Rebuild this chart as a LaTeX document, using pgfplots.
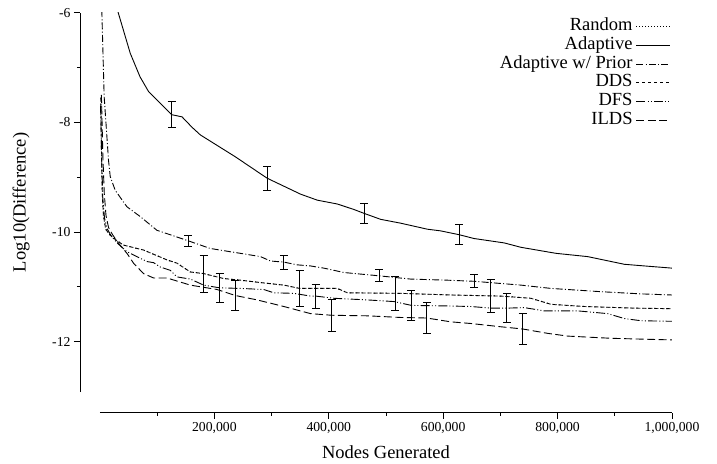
\documentclass[border=0pt]{standalone}
\usepackage{fontspec}
\setmainfont{Liberation Serif}
\usepackage{pgfplots}
\pgfplotsset{compat=1.18}

\begin{document}
\begin{tikzpicture}
\begin{axis}[
  scale only axis, width=572pt, height=379.3pt,
  xmin=0, xmax=1000000, ymin=-12.92, ymax=-6,
  axis x line=bottom, axis y line=left,
  axis x line shift=20.7pt, axis y line shift=20pt,
  axis line style={-, line width=0.8pt},
  scaled x ticks=false,
  xtick={200000,400000,600000,800000,1000000},
  xticklabels={{200,000},{400,000},{600,000},{800,000},{1,000,000}},
  minor xtick={100000,300000,500000,700000,900000},
  ytick={-12,-10,-8,-6}, yticklabels={-12,-10,-8,-6},
  minor ytick={-11,-9,-7},
  tick align=outside,
  major tick length=6pt, minor tick length=3pt,
  tick style={line width=0.8pt, black},
  tick label style={font=\fontsize{13.7}{15}\selectfont},
  xlabel={Nodes Generated}, ylabel={Log10(Difference)},
  every axis x label/.style={at={(rel axis cs:0.5,-0.1748)}, anchor=base,
    font=\fontsize{18.5}{20}\selectfont},
  every axis y label/.style={at={(rel axis cs:-0.138,0.5)}, anchor=center, rotate=90,
    font=\fontsize{18.5}{20}\selectfont},
  legend plot pos=right, legend cell align=right,
  legend style={draw=none, fill=none, at={(0.998,0.9868)}, anchor=north east,
    inner sep=0pt, column sep=3.5pt, row sep=1.16pt,
    font=\fontsize{18.5}{20}\selectfont,
    nodes={inner sep=0pt, text height=13pt, text depth=4.5pt}},
  legend image code/.code={\draw[#1] (0pt,0pt) -- (33.7pt,0pt);},
  every axis plot/.append style={line width=0.9pt, black},
  ebar/.style={forget plot, draw=none,
    error bars/.cd, y dir=both, y explicit,
    error bar style={draw=black, solid, line width=0.9pt},
    error mark options={rotate=90, mark size=4pt, draw=black, solid, line width=0.9pt}},
]
\coordinate (bl) at (rel axis cs:-0.1748,-0.1898);
\coordinate (tr) at (rel axis cs:1.0787,1.0335);

% Random (hidden under DDS)
\addplot[dash pattern=on 1pt off 2pt] coordinates {
  (1500,-7.55) (2500,-8.5) (4000,-9.3) (6000,-9.7) (10000,-9.95) (17000,-10.05)
  (27000,-10.14) (41200,-10.24) (76200,-10.33) (117200,-10.51) (134700,-10.57)
  (158000,-10.73) (181300,-10.76) (216300,-10.85) (245500,-10.88) (286300,-10.93)
  (321400,-10.97) (348900,-11.03) (414900,-11.03) (432400,-11.11) (525700,-11.12)
  (613300,-11.15) (700900,-11.17) (753400,-11.21) (788400,-11.32) (846800,-11.36)
  (934300,-11.39) (1000000,-11.40)
};
\addlegendentry{Random}

% Adaptive
\addplot[solid] coordinates {
  (19300,-5.5) (31900,-6.0) (52900,-6.74) (70000,-7.17) (85000,-7.44) (99600,-7.59) (125200,-7.86)
  (143400,-7.90) (160900,-8.09) (175500,-8.23) (236800,-8.63) (292300,-9.02)
  (350600,-9.31) (379900,-9.42) (414900,-9.49) (443900,-9.59) (461500,-9.66)
  (490700,-9.77) (525700,-9.84) (572500,-9.95) (595400,-9.98) (627800,-10.05)
  (654100,-10.12) (706700,-10.20) (735900,-10.28) (797200,-10.39) (852700,-10.45)
  (916800,-10.59) (951800,-10.62) (1000000,-10.66)
};
\addlegendentry{Adaptive}

% Adaptive w/ Prior
\addplot[dash pattern=on 7pt off 2.2pt on 1pt off 2.2pt] coordinates {
  (1500,-5.5) (3300,-6.0) (7300,-7.53) (14900,-8.69) (17900,-8.99) (26600,-9.24)
  (47100,-9.54) (70400,-9.72) (99600,-9.97) (153900,-10.16) (192300,-10.30)
  (227300,-10.36) (245500,-10.39) (280600,-10.45) (298100,-10.53) (321400,-10.55)
  (344800,-10.60) (368100,-10.62) (391400,-10.66) (426400,-10.74) (487700,-10.80)
  (543300,-10.86) (607500,-10.88) (654100,-10.90) (689100,-10.93) (735900,-10.97)
  (788400,-11.03) (876000,-11.09) (946000,-11.13) (1000000,-11.15)
};
\addlegendentry{Adaptive w/ Prior}

% DDS
\addplot[dash pattern=on 3pt off 3pt] coordinates {
  (1500,-7.55) (2500,-8.5) (4000,-9.3) (6000,-9.7) (10000,-9.95) (17000,-10.05)
  (27000,-10.14) (41200,-10.24) (76200,-10.33) (117200,-10.51) (134700,-10.57)
  (158000,-10.73) (181300,-10.76) (216300,-10.85) (245500,-10.88) (286300,-10.93)
  (321400,-10.97) (348900,-11.03) (414900,-11.03) (432400,-11.11) (525700,-11.12)
  (613300,-11.15) (700900,-11.17) (753400,-11.21) (788400,-11.32) (846800,-11.36)
  (934300,-11.39) (1000000,-11.40)
};
\addlegendentry{DDS}

% DFS
\addplot[dash pattern=on 9pt off 2.2pt on 1pt off 2.2pt on 1pt off 2.2pt] coordinates {
  (1000,-7.7) (3000,-8.7) (5000,-9.4) (8000,-9.75) (13000,-9.95) (20000,-10.08)
  (32000,-10.22) (47100,-10.36) (70400,-10.48) (82100,-10.54) (93700,-10.56)
  (105400,-10.64) (122900,-10.70) (134700,-10.82) (158000,-10.86) (181300,-10.97)
  (209300,-11.02) (245500,-11.03) (286300,-11.05) (303900,-11.11) (338900,-11.12)
  (368100,-11.17) (376900,-11.17) (408900,-11.21) (467400,-11.24) (514000,-11.27)
  (544500,-11.34) (607500,-11.35) (648300,-11.36) (683400,-11.39) (711400,-11.39)
  (741700,-11.38) (776700,-11.44) (835200,-11.44) (887700,-11.49) (916800,-11.58)
  (946000,-11.62) (1000000,-11.63)
};
\addlegendentry{DFS}

% ILDS
\addplot[dash pattern=on 8pt off 3.5pt] coordinates {
  (2500,-7.5) (5000,-8.6) (7500,-9.3) (10500,-9.7) (15000,-9.92) (22000,-10.05)
  (32000,-10.2) (47100,-10.39) (58700,-10.57) (76200,-10.76) (93700,-10.84)
  (117200,-10.84) (158000,-10.97) (204700,-11.05) (236800,-11.16) (274800,-11.24)
  (321400,-11.36) (368100,-11.49) (404900,-11.52) (467400,-11.53) (525700,-11.56)
  (571300,-11.57) (613300,-11.64) (648300,-11.67) (700900,-11.73) (738900,-11.77)
  (782700,-11.85) (817700,-11.90) (893500,-11.94) (1000000,-11.97)
};
\addlegendentry{ILDS}

% error bars
\addplot[ebar] coordinates {
  (125200,-7.86) +- (0,0.24) (292300,-9.02) +- (0,0.22)
  (461500,-9.66) +- (0,0.18) (627800,-10.05) +- (0,0.18)
};
\addplot[ebar] coordinates {
  (153900,-10.16) +- (0,0.10) (321400,-10.55) +- (0,0.13)
  (487700,-10.80) +- (0,0.11) (654100,-10.90) +- (0,0.12)
};
\addplot[ebar] coordinates {
  (181300,-10.76) +- (0,0.34) (348900,-11.03) +- (0,0.32)
  (515800,-11.13) +- (0,0.31) (683400,-11.16) +- (0,0.30)
};
\addplot[ebar] coordinates {
  (209300,-11.02) +- (0,0.27) (376900,-11.17) +- (0,0.22)
  (544500,-11.34) +- (0,0.27) (711400,-11.39) +- (0,0.26)
};
\addplot[ebar] coordinates {
  (236800,-11.16) +- (0,0.27) (404900,-11.52) +- (0,0.29)
  (571300,-11.57) +- (0,0.29) (738900,-11.77) +- (0,0.28)
};
\end{axis}
\pgfresetboundingbox
\path (bl) rectangle (tr);
\end{tikzpicture}
\end{document}
